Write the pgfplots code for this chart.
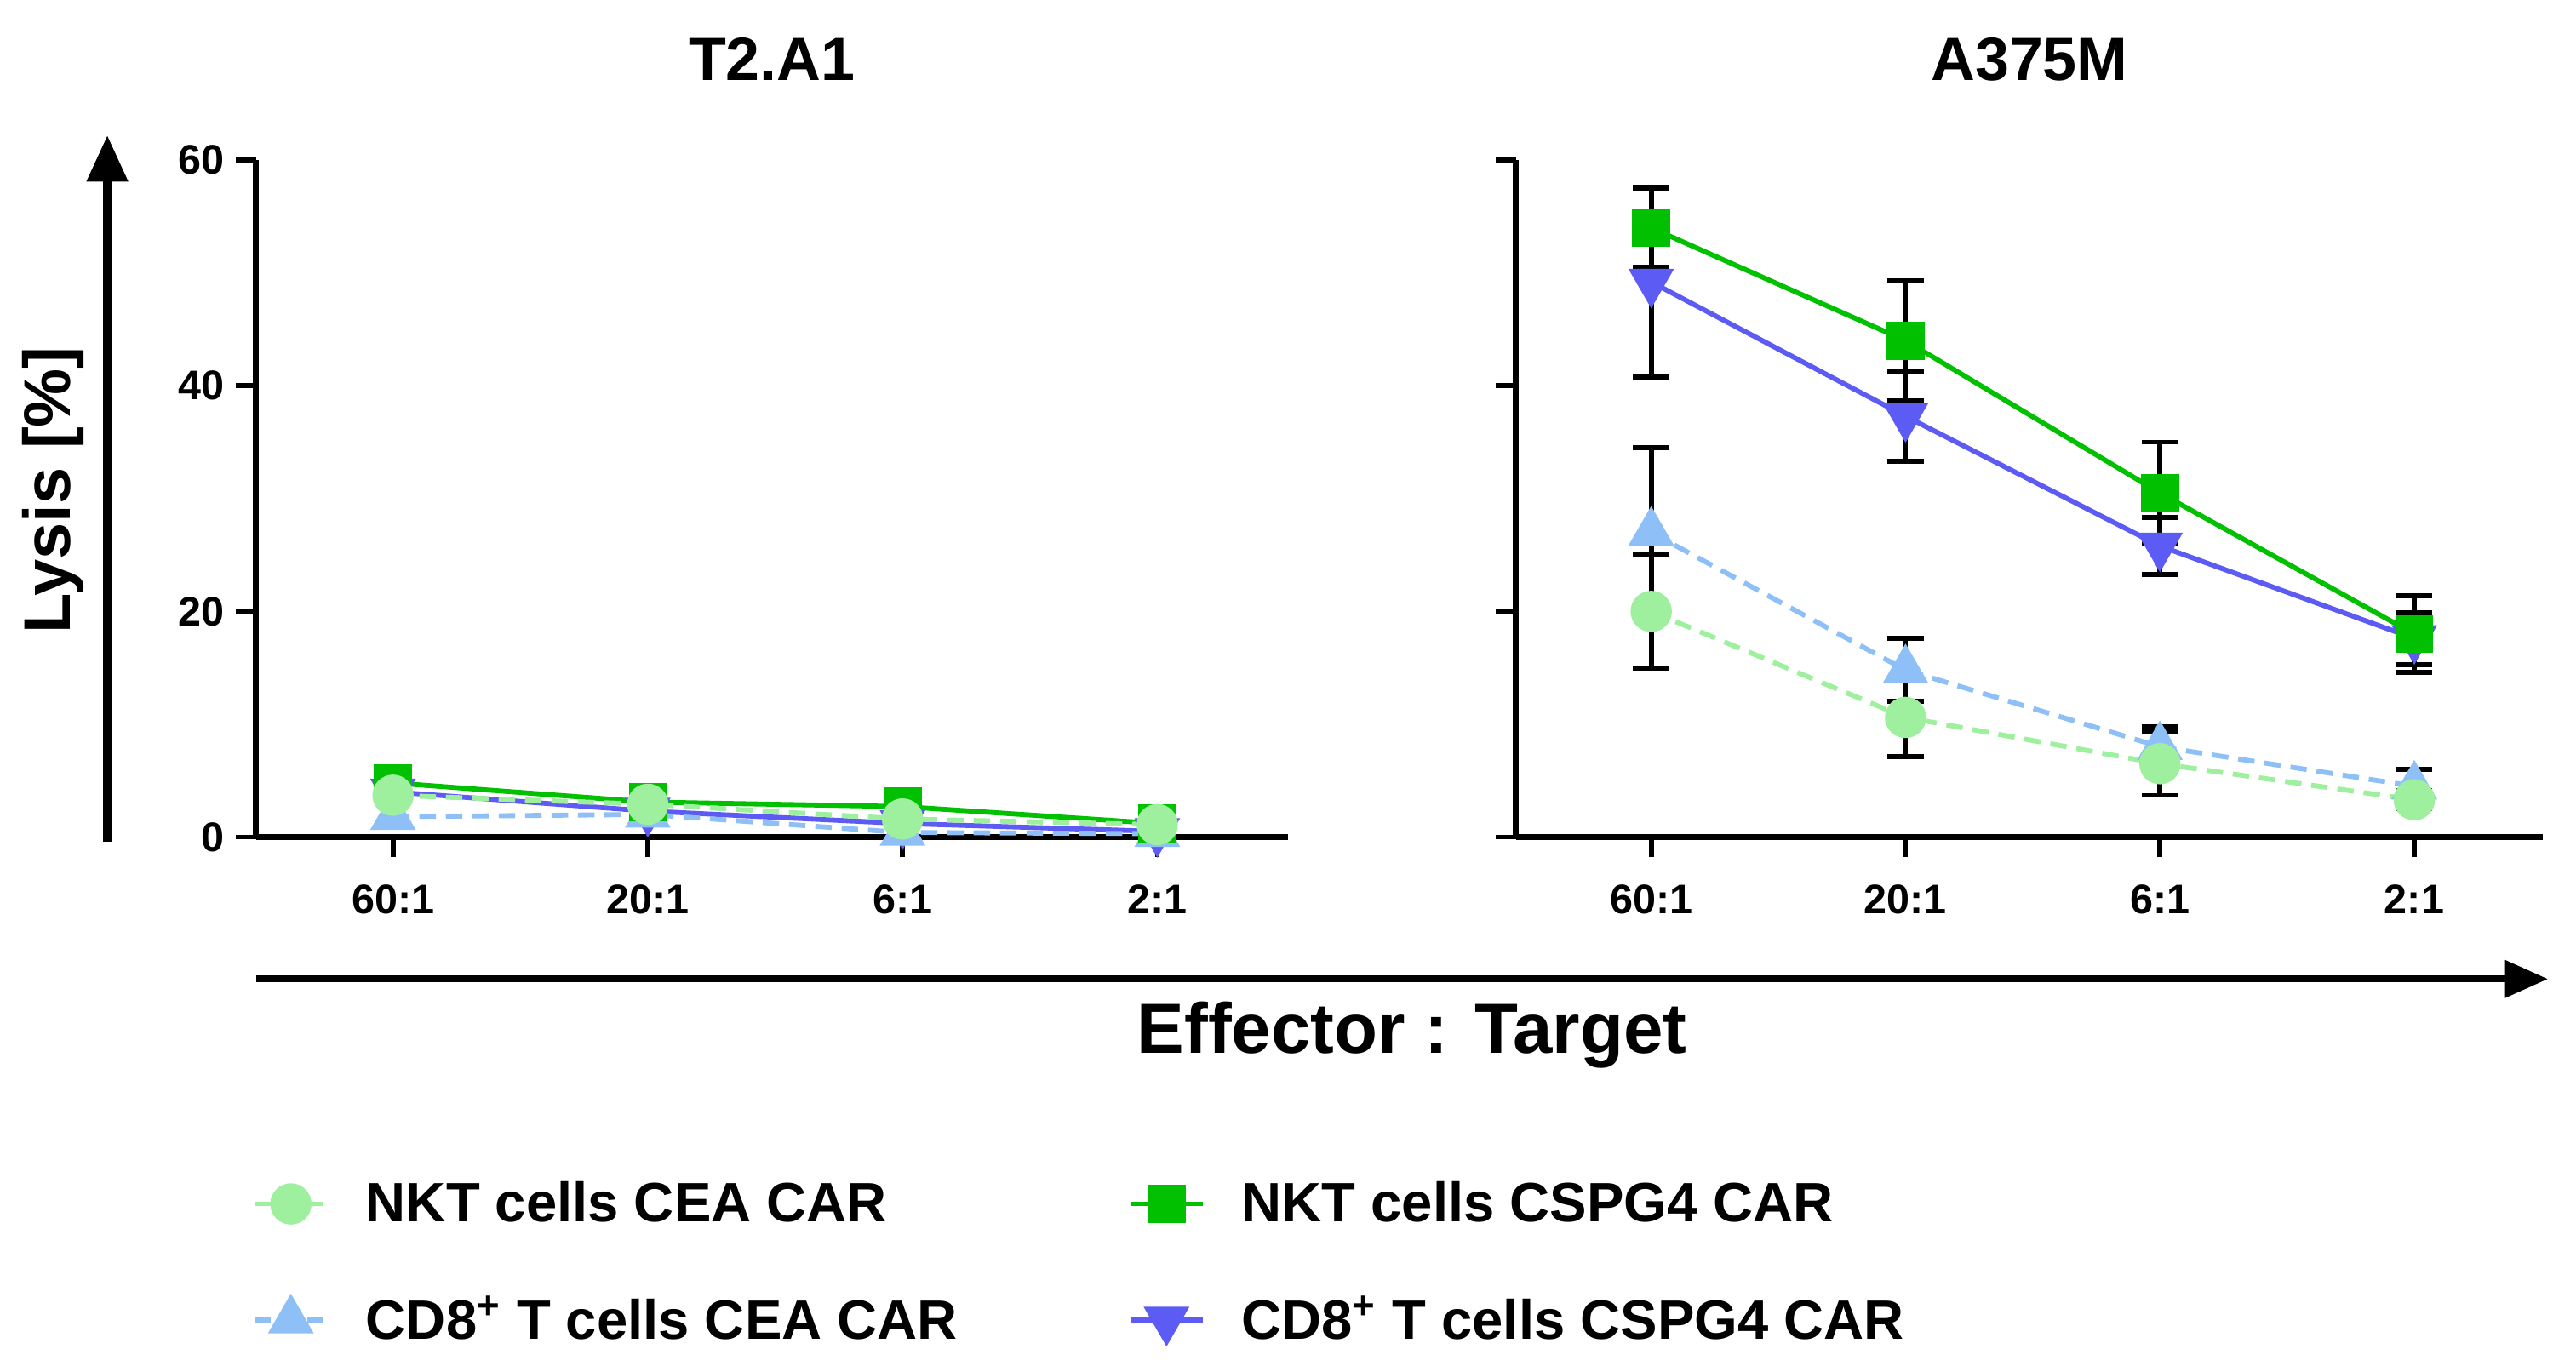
\documentclass[border=0pt]{standalone}
\usepackage{fontspec}
\setmainfont{Liberation Sans}
\usepackage{pgfplots}
\pgfplotsset{compat=1.18}
\usetikzlibrary{arrows.meta}

\definecolor{cLG}{RGB}{158,240,158}
\definecolor{cG}{RGB}{0,192,0}
\definecolor{cB}{RGB}{92,92,245}
\definecolor{cLB}{RGB}{143,191,247}

\pgfplotsset{
 sNC/.style={cLG, line width=1.5pt, dash pattern=on 5pt off 3pt, mark=*, mark options={solid, fill=cLG, draw=cLG}, mark size=5.5pt},
 sNS/.style={cG, line width=1.5pt, mark=square*, mark options={solid, fill=cG, draw=cG}, mark size=5pt},
 sTC/.style={cLB, line width=1.5pt, dash pattern=on 5pt off 3pt, mark=triangle*, mark options={solid, fill=cLB, draw=cLB}, mark size=6.5pt},
 sTS/.style={cB, line width=1.5pt, mark=triangle*, mark options={solid, rotate=180, fill=cB, draw=cB}, mark size=6.5pt},
 eb/.style={only marks, mark=none, forget plot, error bars/.cd, y dir=both, y explicit, error bar style={black, line width=1.5pt, solid}, error mark options={black, rotate=90, mark size=5.5pt, line width=1.5pt, solid}},
 base/.style={scale only axis, height=205pt, ymin=0, ymax=60, ytick={0,20,40,60},
   xtick={0,1,2,3}, xticklabels={60:1,20:1,6:1,2:1},
   axis lines=left, axis line style={-, line width=1.75pt, black},
   tick align=outside, major tick length=6pt, tick style={black, line width=1.5pt},
   ticklabel style={font=\fontsize{12.5}{14}\selectfont\bfseries},
   xticklabel style={yshift=-5pt},
   /pgf/number format/assume math mode=true, clip=false,
   title style={font=\fontsize{18.5}{20}\selectfont\bfseries, at={(0.5,1)}, anchor=center, yshift=24.5pt}},
 legend image code/.code={\draw[mark repeat=2,mark phase=2] plot coordinates {(0pt,0pt) (11pt,0pt) (22pt,0pt)};},
}

\begin{document}
\begin{tikzpicture}
\path[use as bounding box] (0,0) rectangle (780pt,413.5pt);

\begin{axis}[base, at={(77.5pt,160pt)}, anchor=south west, width=312.5pt,
  xmin=-0.538, xmax=3.513, title={T2.A1},
  legend columns=2, legend cell align=left,
  legend style={draw=none, fill=none, at={(-0.014,-0.498)}, anchor=north west,
    font=\fontsize{16.8}{18}\selectfont\bfseries, row sep=21pt, nodes={inner sep=0pt},
    /tikz/every odd column/.append style={column sep=11pt},
    /tikz/every even column/.append style={column sep=51.5pt}}]
\addlegendimage{sNC}\addlegendentry{NKT cells CEA CAR}
\addlegendimage{sNS}\addlegendentry{NKT cells CSPG4 CAR}
\addlegendimage{sTC}\addlegendentry{CD8\textsuperscript{+} T cells CEA CAR}
\addlegendimage{sTS}\addlegendentry{CD8\textsuperscript{+} T cells CSPG4 CAR}
\addplot[sTS, forget plot] coordinates {(0,4.0) (1,2.3) (2,1.2) (3,0.5)};
\addplot[sTC, forget plot] coordinates {(0,1.8) (1,2.0) (2,0.4) (3,0.3)};
\addplot[sNS, forget plot] coordinates {(0,4.8) (1,3.1) (2,2.7) (3,1.2)};
\addplot[sNC, forget plot] coordinates {(0,3.7) (1,2.9) (2,1.6) (3,1.1)};
\end{axis}

\begin{axis}[base, at={(459pt,160pt)}, anchor=south west, width=311pt,
  xmin=-0.532, xmax=3.506, title={A375M}, yticklabels={,,,}]
% error bars first, so that the marks lie over them
\addplot[eb] coordinates {(0,49.2) +- (0,8.4) (1,37.3) +- (0,4.0) (2,25.8) +- (0,2.5) (3,17.6) +- (0,2.3)};
\addplot[eb] coordinates {(0,54.0) +- (0,3.5) (1,44.0) +- (0,5.3) (2,30.5) +- (0,4.5) (3,18.0) +- (0,3.4)};
\addplot[eb] coordinates {(0,27.0) +- (0,7.5) (1,14.8) +- (0,2.8) (2,8.0) +- (0,1.8) (3,4.5) +- (0,1.5)};
\addplot[eb] coordinates {(0,20.0) +- (0,5.0) (1,10.6) +- (0,3.5) (2,6.5) +- (0,2.8) (3,3.3) +- (0,0.8)};
\addplot[sTS] coordinates {(0,49.2) (1,37.3) (2,25.8) (3,17.6)};
\addplot[sNS] coordinates {(0,54.0) (1,44.0) (2,30.5) (3,18.0)};
\addplot[sTC] coordinates {(0,27.0) (1,14.8) (2,8.0) (3,4.5)};
\addplot[sNC] coordinates {(0,20.0) (1,10.6) (2,6.5) (3,3.3)};
\end{axis}

\draw[line width=2.5pt, -{Triangle[length=14pt,width=12pt]}] (32.5pt,158.5pt) -- (32.5pt,372.5pt);
\draw[line width=2pt, -{Triangle[length=13pt,width=11pt]}] (77.5pt,117pt) -- (771.5pt,117pt);
\node[rotate=90, font=\fontsize{20}{22}\selectfont\bfseries] at (16pt,265pt) {Lysis [\%]};
\node[font=\fontsize{21.5}{24}\selectfont\bfseries] at (427.5pt,100pt) {Effector : Target};
\end{tikzpicture}
\end{document}
